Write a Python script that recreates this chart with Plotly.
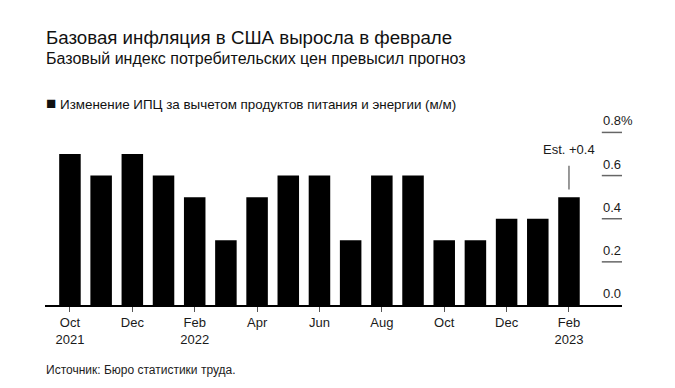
import plotly.graph_objects as go

months = ["Oct 2021", "Nov 2021", "Dec 2021", "Jan 2022", "Feb 2022", "Mar 2022",
          "Apr 2022", "May 2022", "Jun 2022", "Jul 2022", "Aug 2022", "Sep 2022",
          "Oct 2022", "Nov 2022", "Dec 2022", "Jan 2023", "Feb 2023"]
core_cpi_mom = [0.7, 0.6, 0.7, 0.6, 0.5, 0.3, 0.5, 0.6, 0.6, 0.3, 0.6, 0.6,
                0.3, 0.3, 0.4, 0.4, 0.5]
x_tick_vals = ["Oct 2021", "Dec 2021", "Feb 2022", "Apr 2022", "Jun 2022", "Aug 2022",
               "Oct 2022", "Dec 2022", "Feb 2023"]
x_tick_text = ["Oct<br>2021", "Dec", "Feb<br>2022", "Apr", "Jun", "Aug", "Oct", "Dec",
               "Feb<br>2023"]
y_tick_vals = [0.0, 0.2, 0.4, 0.6, 0.8]
y_tick_text = ["0.0", "0.2", "0.4", "0.6", "0.8%"]
estimate_text = "Est. +0.4"

FONT = "Liberation Sans, Arial, Helvetica, sans-serif"

fig = go.Figure()
fig.add_trace(go.Bar(x=months, y=core_cpi_mom, marker=dict(color="#000000", line=dict(width=0)),
                     showlegend=False, hoverinfo="x+y"))

# page body adds an 8px margin; figure sized to fit the window
W, H = 667, 380
ml, mr, mt, mb = 37, 53, 113, 83

fig.update_layout(
    width=W, height=H,
    margin=dict(l=ml, r=mr, t=mt, b=mb),
    paper_bgcolor="white", plot_bgcolor="white",
    bargap=0.31,
    font=dict(family=FONT, color="#1a1a1a", size=13),
    xaxis=dict(type="category", categoryorder="array", categoryarray=months,
               range=[-0.8, 17.7], showgrid=False, zeroline=False,
               showline=True, linecolor="#000000", linewidth=1.5,
               tickmode="array", tickvals=x_tick_vals, ticktext=x_tick_text,
               ticks="outside", ticklen=5, tickcolor="#555555", tickwidth=1,
               tickfont=dict(size=13, color="#1a1a1a")),
    yaxis=dict(range=[0, 0.853], showgrid=False, zeroline=False,
               showticklabels=False, showline=False, ticks=""),
)

# right-side short gridline marks and labels
for v, t in zip(y_tick_vals, y_tick_text):
    if v > 0:
        fig.add_shape(type="line", xref="paper", yref="y", x0=0.965, x1=1.0, y0=v, y1=v,
                      line=dict(color="#666666", width=1.5))
    fig.add_annotation(xref="paper", yref="y", x=0.963, y=v, text=t, showarrow=False,
                       xanchor="left", yanchor="bottom", yshift=2,
                       font=dict(size=13, color="#1a1a1a"))

# estimate marker
last = months[-1]
fig.add_shape(type="line", xref="x", yref="y", x0=last, x1=last, y0=0.535, y1=0.645,
              line=dict(color="#555555", width=1.2))
fig.add_annotation(xref="x", yref="y", x=last, y=0.645, text=estimate_text, showarrow=False,
                   xanchor="center", yanchor="bottom", yshift=7,
                   font=dict(size=13, color="#1a1a1a"))

# titles (plot top is at screen y=121, baseline at screen y=305)
fig.add_annotation(xref="paper", yref="paper", x=0, xshift=-1, y=1, yshift=84,
                   text="Базовая инфляция в США выросла в феврале", showarrow=False,
                   xanchor="left", yanchor="middle", font=dict(size=18.7, color="#111111"))
fig.add_annotation(xref="paper", yref="paper", x=0, xshift=-1, y=1, yshift=63,
                   text="Базовый индекс потребительских цен превысил прогноз", showarrow=False,
                   xanchor="left", yanchor="middle", font=dict(size=16, color="#111111"))
fig.add_annotation(xref="paper", yref="paper", x=0, xshift=-1, y=1, yshift=18,
                   text="<span style='font-size:17px'>■</span> Изменение ИПЦ за вычетом продуктов питания и энергии (м/м)",
                   showarrow=False, xanchor="left", yanchor="middle",
                   font=dict(size=13.4, color="#111111"))
fig.add_annotation(xref="paper", yref="paper", x=0, xshift=-1, y=0, yshift=-65,
                   text="Источник: Бюро статистики труда.", showarrow=False,
                   xanchor="left", yanchor="middle", font=dict(size=12, color="#222222"))

fig.write_html("out.html")
